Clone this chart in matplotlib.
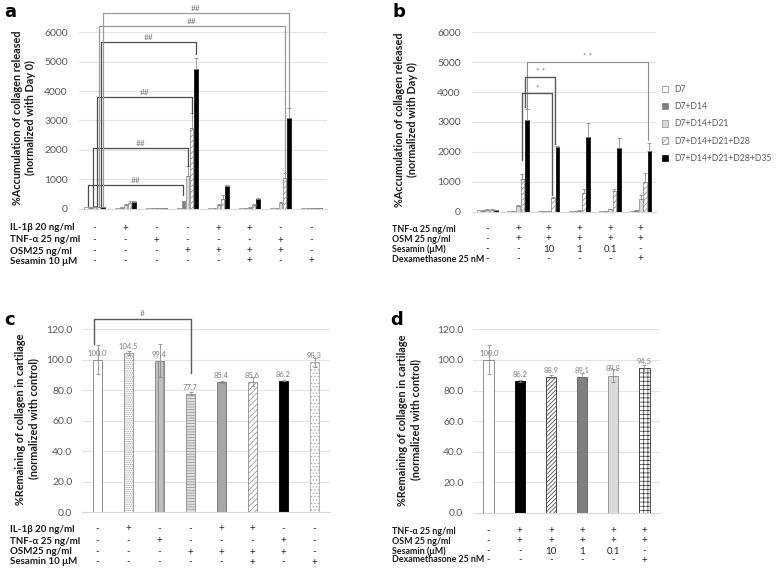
import numpy as np
import matplotlib
matplotlib.use('Agg')
import matplotlib.pyplot as plt
import matplotlib.transforms as mtransforms
from matplotlib.patches import Patch

plt.rcParams['font.family'] = ['Lato', 'DejaVu Sans']
plt.rcParams['hatch.linewidth'] = 0.5

# ---------------- data ----------------
series_names = ['D7', 'D7+D14', 'D7+D14+D21', 'D7+D14+D21+D28', 'D7+D14+D21+D28+D35']

# panel a : 8 treatment groups
a_d7 = [50, 40, 10, 30, 20, 10, 20, 40]
a_d14 = [55, 70, 10, 250, 30, 20, 30, 30]
a_d21 = [65, 125, 10, 1120, 125, 40, 190, 20]
a_d28 = [60, 200, 10, 2730, 330, 125, 1050, 10]
a_d35 = [50, 240, 10, 4750, 780, 330, 3080, 10]
a_d21_err = [10, 20, 5, 330, 40, 20, 40, 5]
a_d28_err = [10, 50, 5, 520, 140, 30, 180, 5]
a_d35_err = [10, 30, 5, 380, 20, 30, 350, 5]

# panel b : 6 treatment groups
b_d7 = [50, 10, 10, 10, 20, 30]
b_d14 = [50, 20, 10, 10, 20, 60]
b_d21 = [60, 180, 20, 30, 80, 420]
b_d28 = [60, 1080, 450, 620, 670, 1000]
b_d35 = [50, 3080, 2160, 2500, 2130, 2020]
b_d21_err = [10, 30, 5, 10, 20, 130]
b_d28_err = [10, 190, 40, 130, 70, 300]
b_d35_err = [10, 350, 30, 460, 320, 270]

# panel c / d : remaining collagen
c_vals = [100.0, 104.5, 99.4, 77.7, 85.4, 85.6, 86.2, 98.3]
c_err = [9.5, 1.5, 11.0, 0.8, 0.6, 3.0, 0.4, 3.0]
d_vals = [100.0, 86.2, 88.9, 89.1, 89.8, 94.5]
d_err = [9.5, 0.5, 1.0, 2.5, 4.0, 2.5]

# treatment tables
ac_rows = ['IL-1β 20 ng/ml', 'TNF-α 25 ng/ml', 'OSM25 ng/ml', 'Sesamin 10 μM']
ac_table = [['-', '+', '-', '-', '+', '+', '-', '-'],
            ['-', '-', '+', '-', '-', '-', '+', '-'],
            ['-', '-', '-', '+', '+', '+', '+', '-'],
            ['-', '-', '-', '-', '-', '+', '-', '+']]
bd_rows = ['TNF-α 25 ng/ml', 'OSM 25 ng/ml', 'Sesamin (μM)', 'Dexamethasone 25 nM']
bd_table = [['-', '+', '+', '+', '+', '+'],
            ['-', '+', '+', '+', '+', '+'],
            ['-', '-', '10', '1', '0.1', '-'],
            ['-', '-', '-', '-', '-', '+']]

# ---------------- figure ----------------
W, H = 778, 568
fig = plt.figure(figsize=(W / 100, H / 100), dpi=100)

def add_ax(x0, y0, x1, y1):
    return fig.add_axes([x0 / W, 1 - y1 / H, (x1 - x0) / W, (y1 - y0) / H])

def style(ax, n, ymax, step, fmt):
    ax.set_xlim(-0.5, n - 0.5)
    ax.set_ylim(0, ymax)
    ax.set_yticks(np.arange(0, ymax + step / 2, step))
    ax.set_yticklabels([fmt % v for v in np.arange(0, ymax + step / 2, step)])
    ax.set_xticks([])
    for s in ['top', 'right', 'left']:
        ax.spines[s].set_visible(False)
    ax.spines['bottom'].set_color('#d9d9d9')
    ax.grid(axis='y', color='#e3e3e3', lw=0.8)
    ax.set_axisbelow(True)
    ax.tick_params(axis='y', length=0, labelsize=7.5, labelcolor='#595959', pad=8)

# series look (D7 .. D35)
s_face = ['white', '#7f7f7f', '#d9d9d9', 'white', 'black']
s_edge = ['#7f7f7f', '#7f7f7f', '#8c8c8c', '#7f7f7f', 'black']
s_hatch = [None, None, None, '//////', None]

def grouped(ax, series, errs, bw):
    for k, vals in enumerate(series):
        x = np.arange(len(vals)) + (k - 2) * bw
        ax.bar(x, vals, bw * 0.85, color=s_face[k], edgecolor=s_edge[k],
               hatch=s_hatch[k], lw=0.5, zorder=2)
        if errs[k] is not None:
            ax.errorbar(x, vals, yerr=[np.zeros(len(vals)), errs[k]], fmt='none',
                        ecolor='#8c8c8c', elinewidth=0.6, capsize=1.2, capthick=0.6, zorder=3)

def bracket(ax, x1, x2, y, yl, yr, label, color, lw=0.9, fs=6):
    ax.plot([x1, x1, x2, x2], [yl, y, y, yr], color=color, lw=lw, clip_on=False, zorder=4)
    ax.annotate(label, ((x1 + x2) / 2, y), xytext=(0, 1), textcoords='offset points',
                ha='center', va='bottom', fontsize=fs, color='#7f7f7f', annotation_clip=False)

def table(ax, rows, table_vals, row_x, row_y, fs):
    tr = mtransforms.blended_transform_factory(ax.transData, fig.transFigure)
    for r, name in enumerate(rows):
        fig.text(row_x / W, 1 - row_y[r] / H, name, fontsize=fs, fontweight='bold',
                 ha='left', va='center', color='#1a1a1a')
        for g, v in enumerate(table_vals[r]):
            ax.text(g, 1 - row_y[r] / H, v, transform=tr, fontsize=7, ha='center',
                    va='center', color='#262626')

def ylabel(x, y, txt):
    fig.text(x / W, 1 - y / H, txt, rotation=90, ha='center', va='center',
             fontsize=7.8, fontweight='bold', multialignment='center', color='#1a1a1a')

# ---------------- panel a ----------------
ax_a = add_ax(79, 32.3, 327, 208.7)
style(ax_a, 8, 6000, 1000, '%d')
bw_a = 0.135
grouped(ax_a, [a_d7, a_d14, a_d21, a_d28, a_d35],
        [None, None, a_d21_err, a_d28_err, a_d35_err], bw_a)

def xa(g, k):
    return g + (k - 2) * bw_a

dark = '#4d4d4d'
light = '#9a9a9a'
bracket(ax_a, xa(0, 0.5), xa(3, 1), 806, 100, 460, '##', dark)
bracket(ax_a, xa(0, 2) - 0.05, xa(3, 2), 2065, 100, 1450, '##', dark)
bracket(ax_a, xa(0, 3) - 0.05, xa(3, 3), 3800, 100, 3250, '##', dark)
bracket(ax_a, xa(0, 4) - 0.06, xa(3, 4), 5670, 100, 5250, '##', dark)
bracket(ax_a, xa(0, 3), xa(6, 3), 6214, 100, 1230, '##', light)
bracket(ax_a, xa(0, 4), xa(6, 4), 6656, 100, 3450, '##', light)

table(ax_a, ac_rows, ac_table, 10, [228, 240, 251, 261], 7.0)
ylabel(24, 118, '%Accumulation of collagen released\n(normalized with Day 0)')

# ---------------- panel b ----------------
ax_b = add_ax(472, 32.3, 656, 211.5)
style(ax_b, 6, 6000, 1000, '%d')
bw_b = 0.143
grouped(ax_b, [b_d7, b_d14, b_d21, b_d28, b_d35],
        [None, None, b_d21_err, b_d28_err, b_d35_err], bw_b)

def xb(g, k):
    return g + (k - 2) * bw_b

bracket(ax_b, xb(1, 4), xb(5, 4) - 0.05, 5010, 3440, 2400, '* *', '#8c8c8c', lw=0.8)
bracket(ax_b, xb(1, 4) - 0.06, xb(2, 4) - 0.07, 4508, 3500, 2250, '* *', '#595959', lw=1.0)
bracket(ax_b, xb(1, 3), xb(2, 3) - 0.04, 3973, 1720, 550, '*', '#595959', lw=1.0)

table(ax_b, bd_rows, bd_table, 392, [229, 239, 249, 259], 6.4)
ylabel(406, 120, '%Accumulation of collagen released\n(normalized with Day 0)')

handles = [Patch(facecolor=s_face[k], edgecolor=s_edge[k], hatch=s_hatch[k], lw=0.5)
           for k in range(5)]
leg = ax_b.legend(handles, series_names, loc='upper left', bbox_to_anchor=(662 / W, 1 - 85 / H),
                  bbox_transform=fig.transFigure, frameon=False, fontsize=6.2,
                  handlelength=0.75, handleheight=0.75, handletextpad=0.7, labelspacing=0.95,
                  borderaxespad=0, borderpad=0)
for t in leg.get_texts():
    t.set_color('#595959')

# ---------------- panel c ----------------
ax_c = add_ax(82, 329.3, 330, 512)
style(ax_c, 8, 120, 20, '%.1f')
ax_c.tick_params(axis='y', pad=7)
c_face = ['white', 'white', '#bfbfbf', '#e0e0e0', '#a6a6a6', 'white', 'black', 'white']
c_edge = ['#7f7f7f', '#8c8c8c', '#7f7f7f', '#8c8c8c', '#6e6e6e', '#8c8c8c', 'black', '#a6a6a6']
c_hatch = [None, '........', '|||', '------', None, '//////', None, '.....']
xc = np.arange(len(c_vals))
for i in range(len(c_vals)):
    ax_c.bar(xc[i], c_vals[i], 0.3, color=c_face[i], edgecolor=c_edge[i],
             hatch=c_hatch[i], lw=0.6, zorder=2)
ax_c.errorbar(xc, c_vals, yerr=c_err, fmt='none', ecolor='#8c8c8c',
              elinewidth=0.6, capsize=1.5, capthick=0.6, zorder=3)
for i in range(len(c_vals)):
    ax_c.text(xc[i], c_vals[i] + 2, '%.1f' % c_vals[i], ha='center', va='bottom',
              fontsize=5.5, color='#7f7f7f')
bracket(ax_c, -0.1, 3.0, 127, 110.5, 91, '#', '#595959', lw=1.0, fs=6)

table(ax_c, ac_rows, ac_table, 10, [529, 541, 552, 562], 7.0)
ylabel(27, 419, '%Remaining of collagen in cartilage\n(normalized with control)')

# ---------------- panel d ----------------
ax_d = add_ax(473, 329.3, 660, 513)
style(ax_d, 6, 120, 20, '%.1f')
ax_d.tick_params(axis='y', pad=7)
d_face = ['white', 'black', 'white', '#7f7f7f', '#d9d9d9', 'white']
d_edge = ['#7f7f7f', 'black', '#333333', '#595959', '#8c8c8c', '#333333']
d_hatch = [None, None, '////////', None, None, '++++']
xd = np.arange(len(d_vals))
for i in range(len(d_vals)):
    ax_d.bar(xd[i], d_vals[i], 0.33, color=d_face[i], edgecolor=d_edge[i],
             hatch=d_hatch[i], lw=0.6, zorder=2)
ax_d.errorbar(xd, d_vals, yerr=d_err, fmt='none', ecolor='#8c8c8c',
              elinewidth=0.6, capsize=1.5, capthick=0.6, zorder=3)
for i in range(len(d_vals)):
    ax_d.text(xd[i], d_vals[i] + 2, '%.1f' % d_vals[i], ha='center', va='bottom',
              fontsize=5.5, color='#7f7f7f')

table(ax_d, bd_rows, bd_table, 392, [531, 541, 551, 560], 6.4)
ylabel(409, 420, '%Remaining of collagen in cartilage\n(normalized with control)')

# ---------------- panel letters ----------------
for lx, ly, s in [(4, 12, 'a'), (392, 12, 'b'), (4, 320, 'c'), (390, 320, 'd')]:
    fig.text(lx / W, 1 - ly / H, s, fontsize=13, fontweight='bold', ha='left', va='center',
             family='DejaVu Sans')

fig.savefig('out.png', dpi=100)
